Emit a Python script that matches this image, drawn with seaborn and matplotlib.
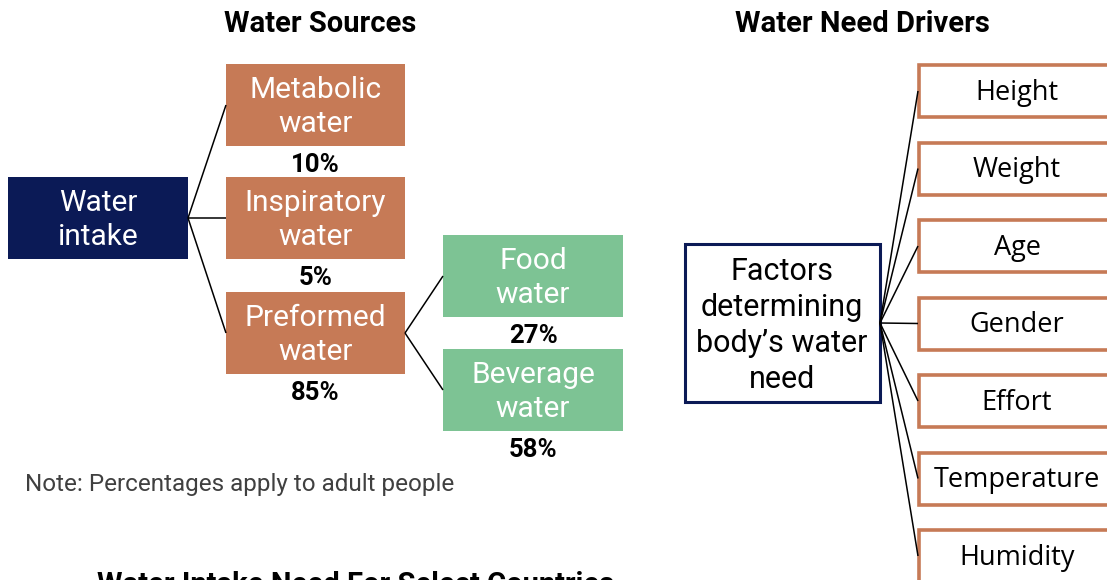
import matplotlib
matplotlib.use("Agg")
import matplotlib.pyplot as plt
from matplotlib.patches import Rectangle
import seaborn as sns

# ==========================================================
# Data
# ==========================================================

intake_label = "Water\nintake"
source_labels = ["Metabolic\nwater", "Inspiratory\nwater", "Preformed\nwater"]
source_shares = ["10%", "5%", "85%"]
preformed_labels = ["Food\nwater", "Beverage\nwater"]
preformed_shares = ["27%", "58%"]
center_label = "Factors\ndetermining\nbody\u2019s water\nneed"
drivers = ["Height", "Weight", "Age", "Gender", "Effort", "Temperature", "Humidity"]

# ==========================================================
# Style
# ==========================================================

sns.set_theme(style="white")
plt.rcParams["font.family"] = ["Roboto", "DejaVu Sans"]

NAVY = "#0B1A56"
ORANGE = "#C67A56"
GREEN = "#7DC394"

fig = plt.figure(figsize=(11.07, 5.8), dpi=100)
ax = fig.add_axes([0, 0, 1, 1])
ax.set_xlim(0, 1107)
ax.set_ylim(580, 0)
ax.axis("off")


def box(x0, y0, x1, y1, face, edge=None, lw=0):
    ax.add_patch(Rectangle((x0, y0), x1 - x0, y1 - y0, facecolor=face,
                           edgecolor=edge if edge else face, linewidth=lw,
                           clip_on=False))


def line(p, q):
    ax.plot([p[0], q[0]], [p[1], q[1]], color="black", lw=1.1,
            solid_capstyle="butt")


# ==========================================================
# Water Sources
# ==========================================================

ax.text(320, 24, "Water Sources", ha="center", va="center",
        fontsize=21, fontweight="bold", color="black")

box(8, 177, 188, 259, NAVY)
ax.text(98, 220, intake_label, ha="center", va="center", fontsize=21.5,
        color="white", linespacing=1.3)

src_top = [64, 177, 292]
for top, lab, share in zip(src_top, source_labels, source_shares):
    box(226, top, 405, top + 82, ORANGE)
    ax.text(315.5, top + 43, lab, ha="center", va="center", fontsize=21.5,
            color="white", linespacing=1.3)
    ax.text(315.5, top + 101, share, ha="center", va="center", fontsize=18.5,
            fontweight="bold", color="black")
    line((188, 218), (226, top + 41))

pre_top = [235, 349]
for top, lab, share in zip(pre_top, preformed_labels, preformed_shares):
    box(443, top, 623, top + 82, GREEN)
    ax.text(533, top + 43, lab, ha="center", va="center", fontsize=21.5,
            color="white", linespacing=1.3)
    ax.text(533, top + 101, share, ha="center", va="center", fontsize=18.5,
            fontweight="bold", color="black")
    line((405, 333), (443, top + 41))

ax.text(25, 484, "Note: Percentages apply to adult people", ha="left",
        va="center", fontsize=17.5, color="#404040")

# ==========================================================
# Water Need Drivers
# ==========================================================

ax.text(862, 24, "Water Need Drivers", ha="center", va="center",
        fontsize=21, fontweight="bold", color="black")

box(685, 244, 880, 402, "white", NAVY, 2.2)
ax.text(782, 325.5, center_label, ha="center", va="center", fontsize=22,
        color="black", linespacing=1.3)

for i, d in enumerate(drivers):
    top = 65 + i * 77.5
    box(919, top, 1112, top + 52, "white", ORANGE, 2.6)
    ax.text(1017, top + 28, d, ha="center", va="center", fontsize=19.5,
            color="black", family=["Open Sans", "DejaVu Sans"])
    line((880, 323), (918, top + 26))

# ==========================================================
# Next section title (cut off at bottom, as in the source)
# ==========================================================

ax.text(356, 571, "Water Intake Need For Select Countries", ha="center",
        va="top", fontsize=21, fontweight="bold", color="black")

fig.savefig("out.png", dpi=100)
